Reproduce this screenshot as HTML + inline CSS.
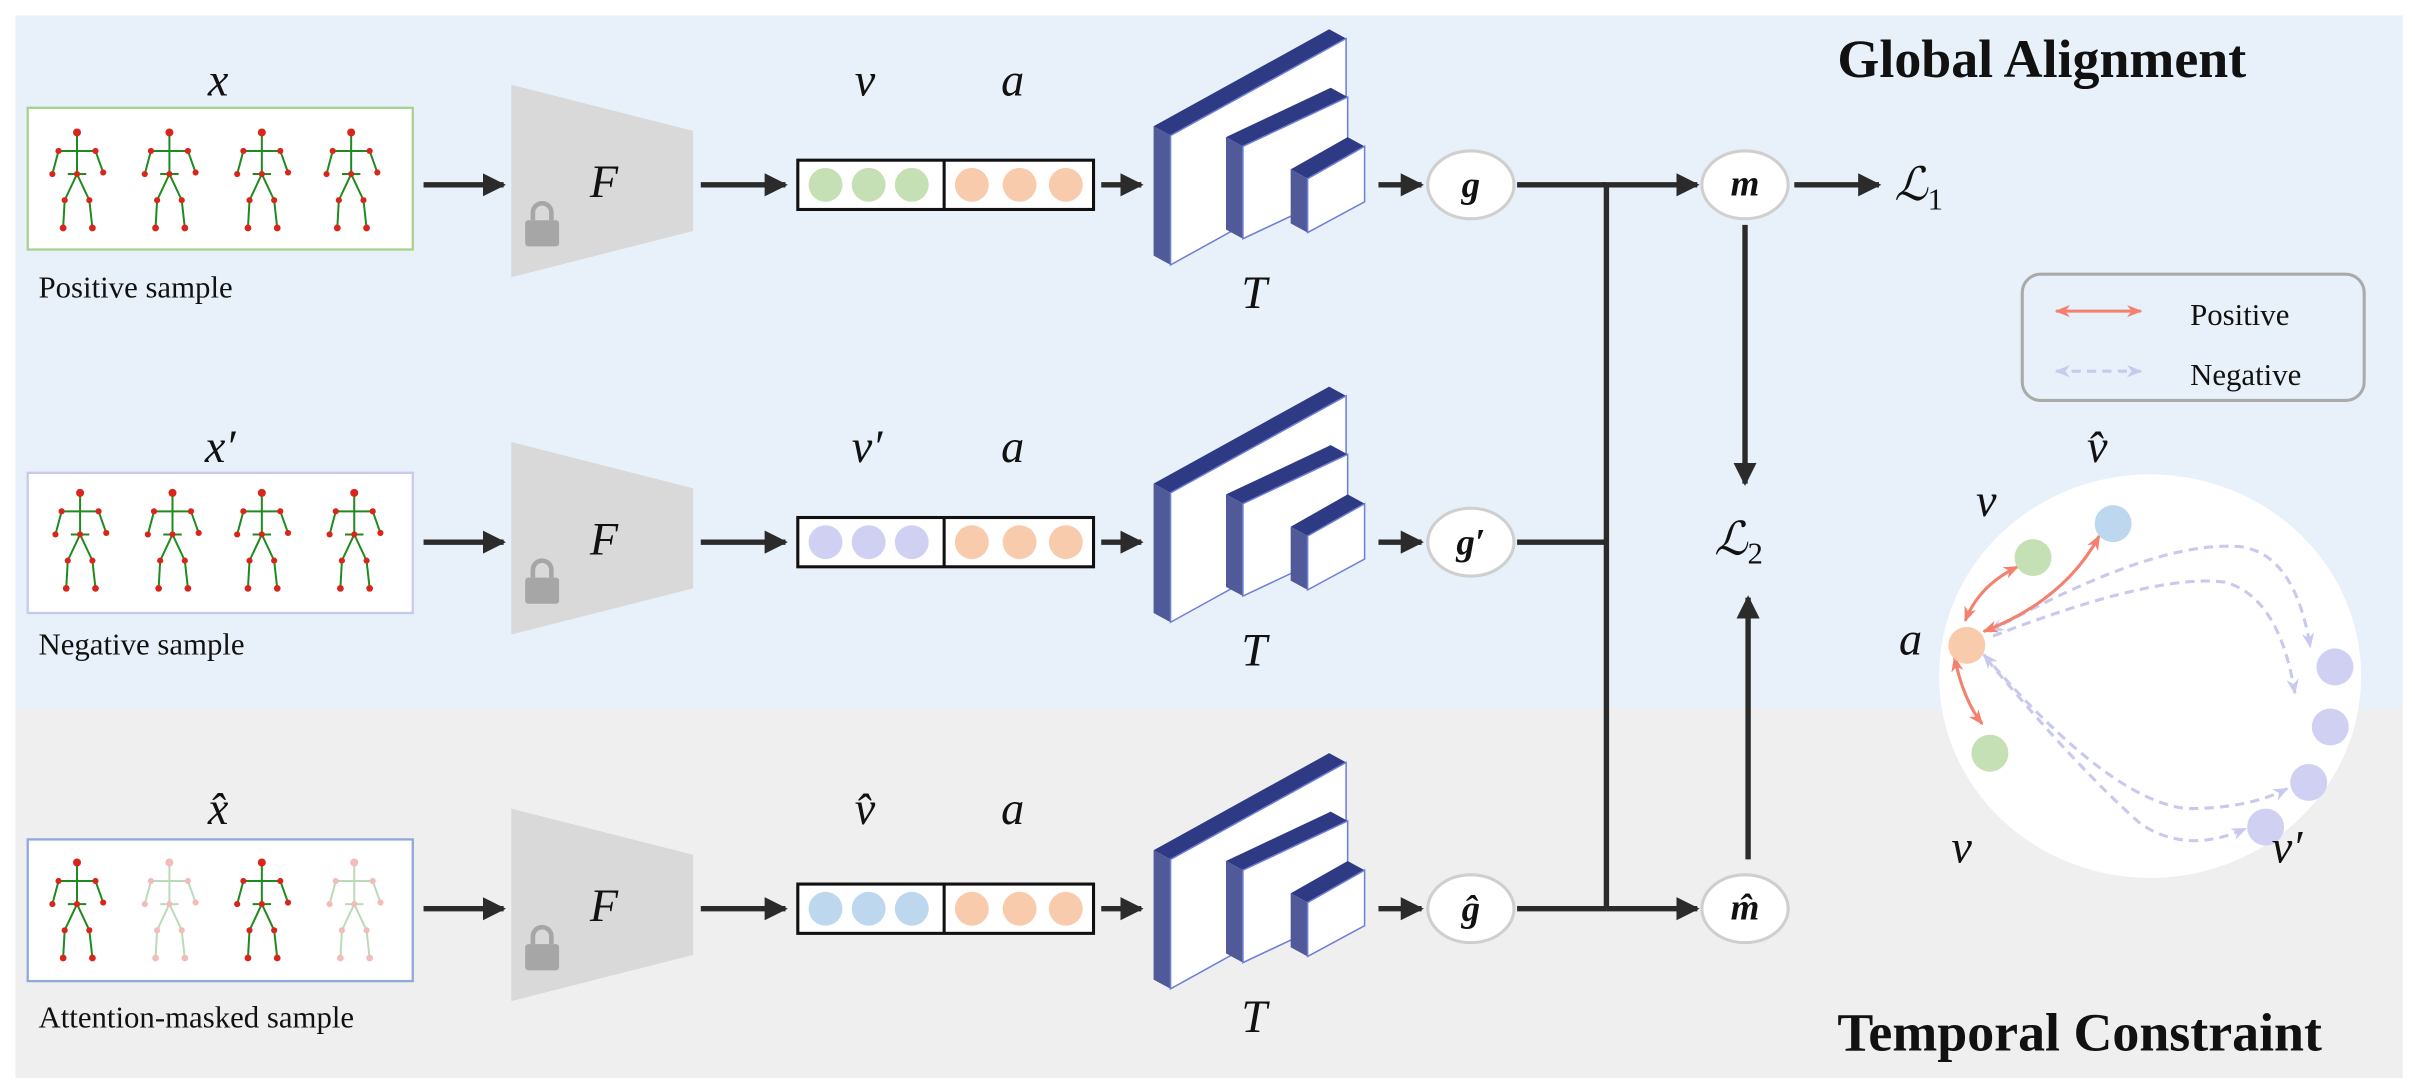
<!DOCTYPE html>
<html><head><meta charset="utf-8"><style>
html,body{margin:0;padding:0;background:#fff}
svg{display:block}
.m{font-family:"Liberation Serif",serif;font-style:italic;font-size:30px;fill:#111}
.s{font-family:"Liberation Serif",serif;font-size:20px;fill:#111}
.t{font-family:"Liberation Serif",serif;font-weight:bold;font-size:35px;fill:#111}
</style></head><body>
<svg width="2415" height="1092" viewBox="0 0 1568 709" preserveAspectRatio="none" xmlns="http://www.w3.org/2000/svg">
<defs>
<marker id="ar" viewBox="0 0 10 10" refX="9" refY="5" markerWidth="4.3" markerHeight="4.3" orient="auto"><path d="M0,0L10,5L0,10z" fill="#2b2b2b"/></marker>
<marker id="rr" viewBox="0 0 10 10" refX="9" refY="5" markerWidth="5" markerHeight="5" orient="auto-start-reverse"><path d="M0,1L10,5L0,9L3,5z" fill="#f4806e"/></marker>
<marker id="pr" viewBox="0 0 10 10" refX="9" refY="5" markerWidth="5" markerHeight="5" orient="auto-start-reverse"><path d="M0,1L10,5L0,9L3,5z" fill="#c9c9f0"/></marker>
<g id="fig">
<g stroke="#1f8a1f" stroke-width="1.3" fill="none">
<path d="M0,-30 L0,-5 M-12,-20 L12,-20 M-12,-20 L-16,-5 M12,-20 L17,-6 M0,-5 L-8,12 L-9,30 M0,-5 L8,12 L10,30 M-6,-5 L6,-5"/>
</g>
<g fill="#d9261c"><circle cx="0" cy="-32" r="2.6"/><circle cx="-12" cy="-20" r="2"/><circle cx="12" cy="-20" r="2"/><circle cx="-16" cy="-5" r="2"/><circle cx="17" cy="-6" r="2"/><circle cx="-8" cy="12" r="2"/><circle cx="8" cy="12" r="2"/><circle cx="-9" cy="30" r="2.2"/><circle cx="10" cy="30" r="2.2"/><circle cx="0" cy="-5" r="2"/></g>
</g>
<g id="fig2" opacity="0.3"><use href="#fig"/></g>
<g id="Tb">
<polygon points="760,88 749,82 863,19 874,25" fill="#2e3b84"/>
<polygon points="760,88 749,82 749,166 760,172" fill="#505a98"/>
<polygon points="760,88 874,25 874,109 760,172" fill="#fff" stroke="#6f7fd6" stroke-width="1"/>
<polygon points="807,95 796,89 864,57 875,63" fill="#2e3b84"/>
<polygon points="807,95 796,89 796,149 807,155" fill="#505a98"/>
<polygon points="807,95 875,63 875,123 807,155" fill="#fff" stroke="#6f7fd6" stroke-width="1"/>
<polygon points="849,116 838,110 875,89 886,95" fill="#2e3b84"/>
<polygon points="849,116 838,110 838,145 849,151" fill="#505a98"/>
<polygon points="849,116 886,95 886,131 849,151" fill="#fff" stroke="#6f7fd6" stroke-width="1"/>
</g>
<g id="Fb">
<polygon points="332,55 450,85 450,150 332,180" fill="#d9d9d9"/>
<rect x="341" y="143" width="22" height="17" rx="2" fill="#a6a6a6"/>
<path d="M346,143 v-5 a6,6 0 0 1 12,0 v5" fill="none" stroke="#a6a6a6" stroke-width="3"/>
<text class="m" x="383" y="128">F</text>
</g>
</defs>
<rect x="10" y="10" width="1550" height="450" fill="#e8f1f9"/>
<rect x="10" y="460" width="1550" height="240" fill="#efefef"/>
<text class="t" x="1193" y="50">Global Alignment</text>
<text class="t" x="1193" y="682">Temporal Constraint</text>

<rect x="18" y="70" width="250" height="92" fill="#fff" stroke="#a9d18e" stroke-width="1.5"/>
<rect x="18" y="307" width="250" height="91" fill="#fff" stroke="#c9c9ef" stroke-width="1.5"/>
<rect x="18" y="545" width="250" height="92" fill="#fff" stroke="#8ea9db" stroke-width="1.5"/>
<use href="#fig" x="50" y="118"/><use href="#fig" x="110" y="118"/><use href="#fig" x="170" y="118"/><use href="#fig" x="228" y="118"/>
<use href="#fig" x="52" y="352"/><use href="#fig" x="112" y="352"/><use href="#fig" x="170" y="352"/><use href="#fig" x="230" y="352"/>
<use href="#fig" x="50" y="592"/><use href="#fig2" x="110" y="592"/><use href="#fig" x="170" y="592"/><use href="#fig2" x="230" y="592"/>
<text class="m" x="135" y="62">x</text>
<text class="m" x="133" y="300">x′</text>
<text class="m" x="135" y="535">x̂</text>
<text class="s" x="25" y="193">Positive sample</text>
<text class="s" x="25" y="425">Negative sample</text>
<text class="s" x="25" y="667">Attention-masked sample</text>

<g stroke="#2b2b2b" stroke-width="3.5" fill="none" marker-end="url(#ar)">
<path d="M275,120H327"/><path d="M275,352H327"/><path d="M275,590H327"/>
<path d="M455,120H510"/><path d="M455,352H510"/><path d="M455,590H510"/>
<path d="M715,120H741"/><path d="M715,352H741"/><path d="M715,590H741"/>
<path d="M895,120H923"/><path d="M895,352H923"/><path d="M895,590H923"/>
<path d="M1040,120H1102"/><path d="M1043,590H1102"/>
<path d="M1165,120H1220"/>
<path d="M1133,146V314"/><path d="M1135,558V388"/>
</g>
<g stroke="#2b2b2b" stroke-width="3.5" fill="none">
<path d="M985,120H1043"/><path d="M985,352H1043"/><path d="M985,590H1043"/><path d="M1043,120V590"/>
</g>

<use href="#Fb"/><use href="#Fb" y="232"/><use href="#Fb" y="470"/>

<g id="fv">
<rect x="518" y="104" width="192" height="32" fill="#fff" stroke="#111" stroke-width="2"/>
<line x1="613" y1="104" x2="613" y2="136" stroke="#111" stroke-width="2"/>
<circle cx="631" cy="120" r="11" fill="#f8cbad"/>
<circle cx="662" cy="120" r="11" fill="#f8cbad"/>
<circle cx="692" cy="120" r="11" fill="#f8cbad"/>
</g>
<circle cx="536" cy="120" r="11" fill="#c5e0b4"/><circle cx="564" cy="120" r="11" fill="#c5e0b4"/><circle cx="592" cy="120" r="11" fill="#c5e0b4"/>
<use href="#fv" y="232"/>
<circle cx="536" cy="352" r="11" fill="#d0d0f2"/><circle cx="564" cy="352" r="11" fill="#d0d0f2"/><circle cx="592" cy="352" r="11" fill="#d0d0f2"/>
<use href="#fv" y="470"/>
<circle cx="536" cy="590" r="11" fill="#bdd7ee"/><circle cx="564" cy="590" r="11" fill="#bdd7ee"/><circle cx="592" cy="590" r="11" fill="#bdd7ee"/>
<text class="m" x="555" y="62">v</text><text class="m" x="650" y="62">a</text>
<text class="m" x="553" y="300">v′</text><text class="m" x="650" y="300">a</text>
<text class="m" x="555" y="535">v̂</text><text class="m" x="650" y="535">a</text>

<use href="#Tb"/><use href="#Tb" y="232"/><use href="#Tb" y="470"/>
<text class="m" x="806" y="200">T</text><text class="m" x="806" y="432">T</text><text class="m" x="806" y="670">T</text>

<g fill="#fff" stroke="#cfcfcf" stroke-width="2">
<ellipse cx="955" cy="120" rx="28" ry="22"/><ellipse cx="955" cy="352" rx="28" ry="22"/><ellipse cx="955" cy="590" rx="28" ry="22"/>
<ellipse cx="1133" cy="120" rx="28" ry="22"/><ellipse cx="1133" cy="590" rx="28" ry="22"/>
</g>
<g font-family="Liberation Serif,serif" font-weight="bold" font-style="italic" font-size="24" fill="#111" text-anchor="middle">
<text x="955" y="128">g</text><text x="955" y="360">g′</text><text x="955" y="598">ĝ</text>
<text x="1133" y="127">m</text><text x="1133" y="597">m̂</text>
</g>
<text class="m" x="1230" y="130">ℒ<tspan font-size="20" dy="6" font-style="normal">1</tspan></text>
<text class="m" x="1113" y="360">ℒ<tspan font-size="20" dy="6" font-style="normal">2</tspan></text>

<rect x="1313" y="178" width="222" height="82" rx="12" fill="none" stroke="#aaa" stroke-width="2"/>
<path d="M1335,202H1390" stroke="#f4806e" stroke-width="2" marker-start="url(#rr)" marker-end="url(#rr)"/>
<path d="M1335,241H1390" stroke="#c9c9f0" stroke-width="2" stroke-dasharray="6,4" marker-start="url(#pr)" marker-end="url(#pr)"/>
<text class="s" x="1422" y="211">Positive</text>
<text class="s" x="1422" y="250">Negative</text>

<ellipse cx="1396" cy="439" rx="137" ry="131" fill="#fff"/>
<g fill="none" stroke="#c9c9f0" stroke-width="2" stroke-dasharray="6,4">
<path d="M1292,410 Q1400,350 1455,355 Q1490,360 1500,420" marker-start="url(#pr)" marker-end="url(#pr)"/>
<path d="M1294,413 Q1400,372 1445,378 Q1480,388 1490,450" marker-end="url(#pr)"/>
<path d="M1288,425 Q1370,520 1420,525 Q1460,525 1485,512" marker-start="url(#pr)" marker-end="url(#pr)"/>
<path d="M1290,428 Q1350,500 1390,535 Q1420,555 1458,538" marker-end="url(#pr)"/>
</g>
<g fill="none" stroke="#f4806e" stroke-width="2">
<path d="M1276,403 Q1285,380 1310,368" marker-start="url(#rr)" marker-end="url(#rr)"/>
<path d="M1288,410 Q1340,390 1363,348" marker-start="url(#rr)" marker-end="url(#rr)"/>
<path d="M1269,427 Q1275,455 1287,470" marker-start="url(#rr)" marker-end="url(#rr)"/>
</g>
<circle cx="1277" cy="419" r="12" fill="#f8cbad"/>
<circle cx="1320" cy="362" r="12" fill="#c5e0b4"/>
<circle cx="1372" cy="340" r="12" fill="#bdd7ee"/>
<circle cx="1292" cy="489" r="12" fill="#c5e0b4"/>
<circle cx="1516" cy="433" r="12" fill="#d0d0f2"/>
<circle cx="1513" cy="472" r="12" fill="#d0d0f2"/>
<circle cx="1499" cy="508" r="12" fill="#d0d0f2"/>
<circle cx="1471" cy="537" r="12" fill="#d0d0f2"/>
<text class="m" x="1355" y="300">v̂</text>
<text class="m" x="1283" y="335">v</text>
<text class="m" x="1233" y="425">a</text>
<text class="m" x="1267" y="560">v</text>
<text class="m" x="1475" y="560">v′</text>
</svg>
</body></html>
